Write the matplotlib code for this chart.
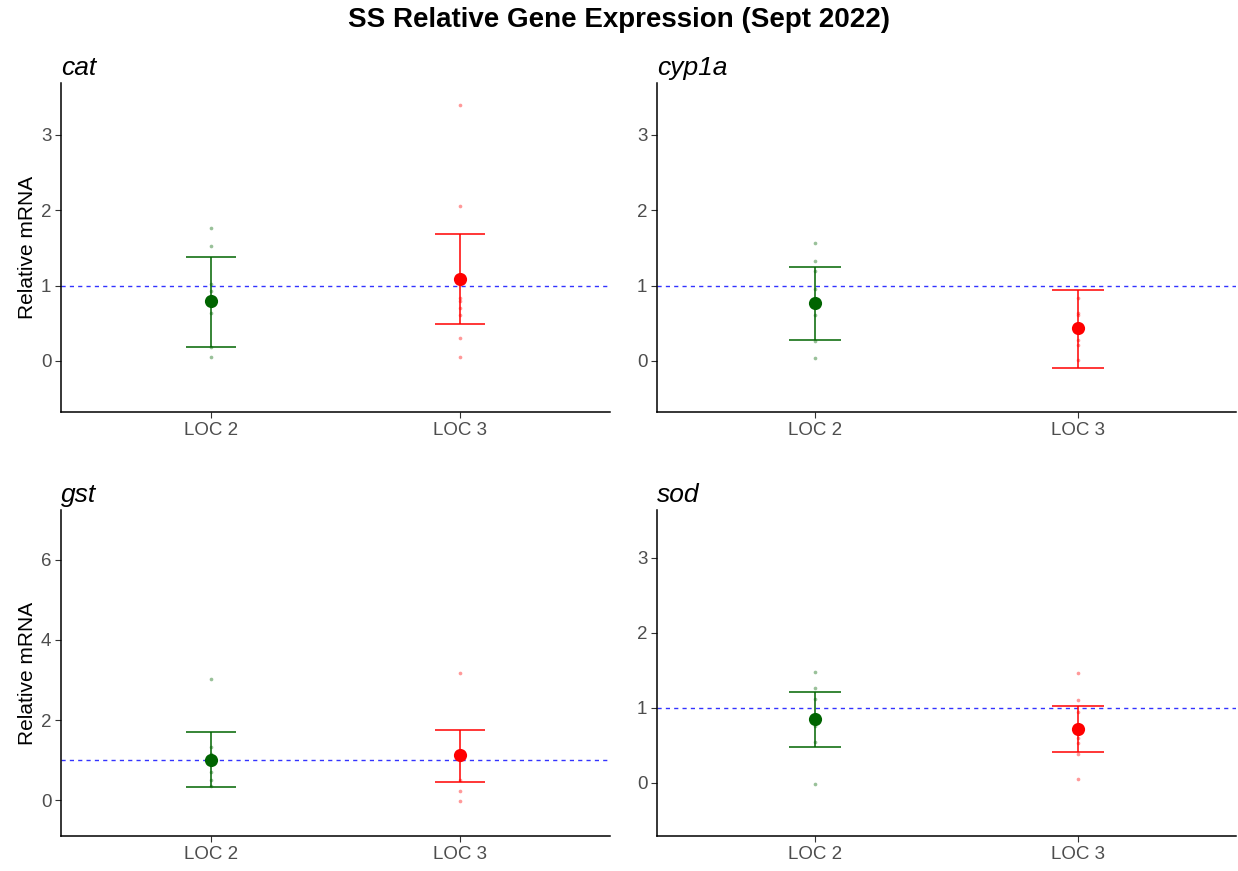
import numpy as np
import matplotlib as mpl
from matplotlib import pyplot as plt

mpl.rcParams['font.family'] = ['Liberation Sans', 'DejaVu Sans']

# sites and colours
sites = ['LOC 2', 'LOC 3']
site_colors = ['#006400', '#ff0000']

# genes (panel titles)
genes = ['cat', 'cyp1a', 'gst', 'sod']

# individual relative mRNA values
cat_loc2 = [1.76, 1.52, 1.02, 0.93, 0.64, 0.18, 0.05]
cat_loc3 = [3.40, 2.06, 0.83, 0.79, 0.70, 0.61, 0.30, 0.05]
cyp1a_loc2 = [1.56, 1.33, 1.19, 0.96, 0.61, 0.26, 0.04]
cyp1a_loc3 = [0.83, 0.63, 0.61, 0.28, 0.21, 0.01]
gst_loc2 = [3.03, 1.33, 1.15, 0.90, 0.69, 0.50, 0.35]
gst_loc3 = [3.17, 1.00, 0.50, 0.23, -0.03]
sod_loc2 = [1.48, 1.27, 1.12, 0.76, 0.54, -0.01]
sod_loc3 = [1.46, 1.10, 0.95, 0.60, 0.53, 0.39, 0.05]

# means and error bar limits
cat_mean = [0.79, 1.09]
cat_lo = [0.19, 0.49]
cat_hi = [1.38, 1.69]
cyp1a_mean = [0.77, 0.43]
cyp1a_lo = [0.27, -0.09]
cyp1a_hi = [1.25, 0.94]
gst_mean = [1.00, 1.12]
gst_lo = [0.33, 0.45]
gst_hi = [1.69, 1.74]
sod_mean = [0.85, 0.72]
sod_lo = [0.48, 0.41]
sod_hi = [1.21, 1.02]

points = [[cat_loc2, cat_loc3], [cyp1a_loc2, cyp1a_loc3],
          [gst_loc2, gst_loc3], [sod_loc2, sod_loc3]]
means = [cat_mean, cyp1a_mean, gst_mean, sod_mean]
lows = [cat_lo, cyp1a_lo, gst_lo, sod_lo]
highs = [cat_hi, cyp1a_hi, gst_hi, sod_hi]

# y ticks / limits per panel
yticks = [[0, 1, 2, 3], [0, 1, 2, 3], [0, 2, 4, 6], [0, 1, 2, 3]]
ylims = [(-0.68, 3.69), (-0.68, 3.69), (-0.9, 7.25), (-0.71, 3.64)]

W, H = 1238, 871
fig = plt.figure(figsize=(W / 100, H / 100), dpi=100)

# panel boxes in pixels: left, top, right, bottom
boxes = [(61, 83, 610, 412), (657, 83, 1236, 412),
         (61, 510, 610, 836), (657, 510, 1236, 836)]

xpos = np.arange(1, len(sites) + 1)

for i, gene in enumerate(genes):
    l, t, r, b = boxes[i]
    ax = fig.add_axes([l / W, (H - b) / H, (r - l) / W, (b - t) / H])

    # reference line
    ax.axhline(1, color='blue', ls=(0, (3, 3)), lw=1, alpha=0.8, zorder=1)

    for j in range(len(sites)):
        c = site_colors[j]
        vals = points[i][j]
        ax.scatter(np.full(len(vals), xpos[j]), vals, s=7, color=c,
                   alpha=0.4, lw=0, zorder=2)
        ax.vlines(xpos[j], lows[i][j], highs[i][j], color=c, lw=1.1, zorder=3)
        ax.hlines([lows[i][j], highs[i][j]], xpos[j] - 0.1, xpos[j] + 0.1,
                  color=c, lw=1.1, zorder=3)
        ax.scatter(xpos[j], means[i][j], s=90, color=c, lw=0, zorder=4)

    ax.set_xlim(0.4, 2.6)
    ax.set_ylim(*ylims[i])
    ax.set_xticks(xpos)
    ax.set_xticklabels(sites)
    ax.set_yticks(yticks[i])
    ax.tick_params(colors='#333333', labelsize=13.5, length=4, width=0.8,
                   labelcolor='#4d4d4d', pad=3)
    for side in ['top', 'right']:
        ax.spines[side].set_visible(False)
    for side in ['left', 'bottom']:
        ax.spines[side].set_linewidth(1.1)

    ax.set_title(gene, loc='left', style='italic', fontsize=19, pad=6)
    if i % 2 == 0:
        ax.set_ylabel('Relative mRNA', fontsize=15, labelpad=3)

fig.suptitle('SS Relative Gene Expression (Sept 2022)', fontsize=20,
             fontweight='bold', y=0.992)

plt.savefig('out.png', dpi=100)
plt.close()
